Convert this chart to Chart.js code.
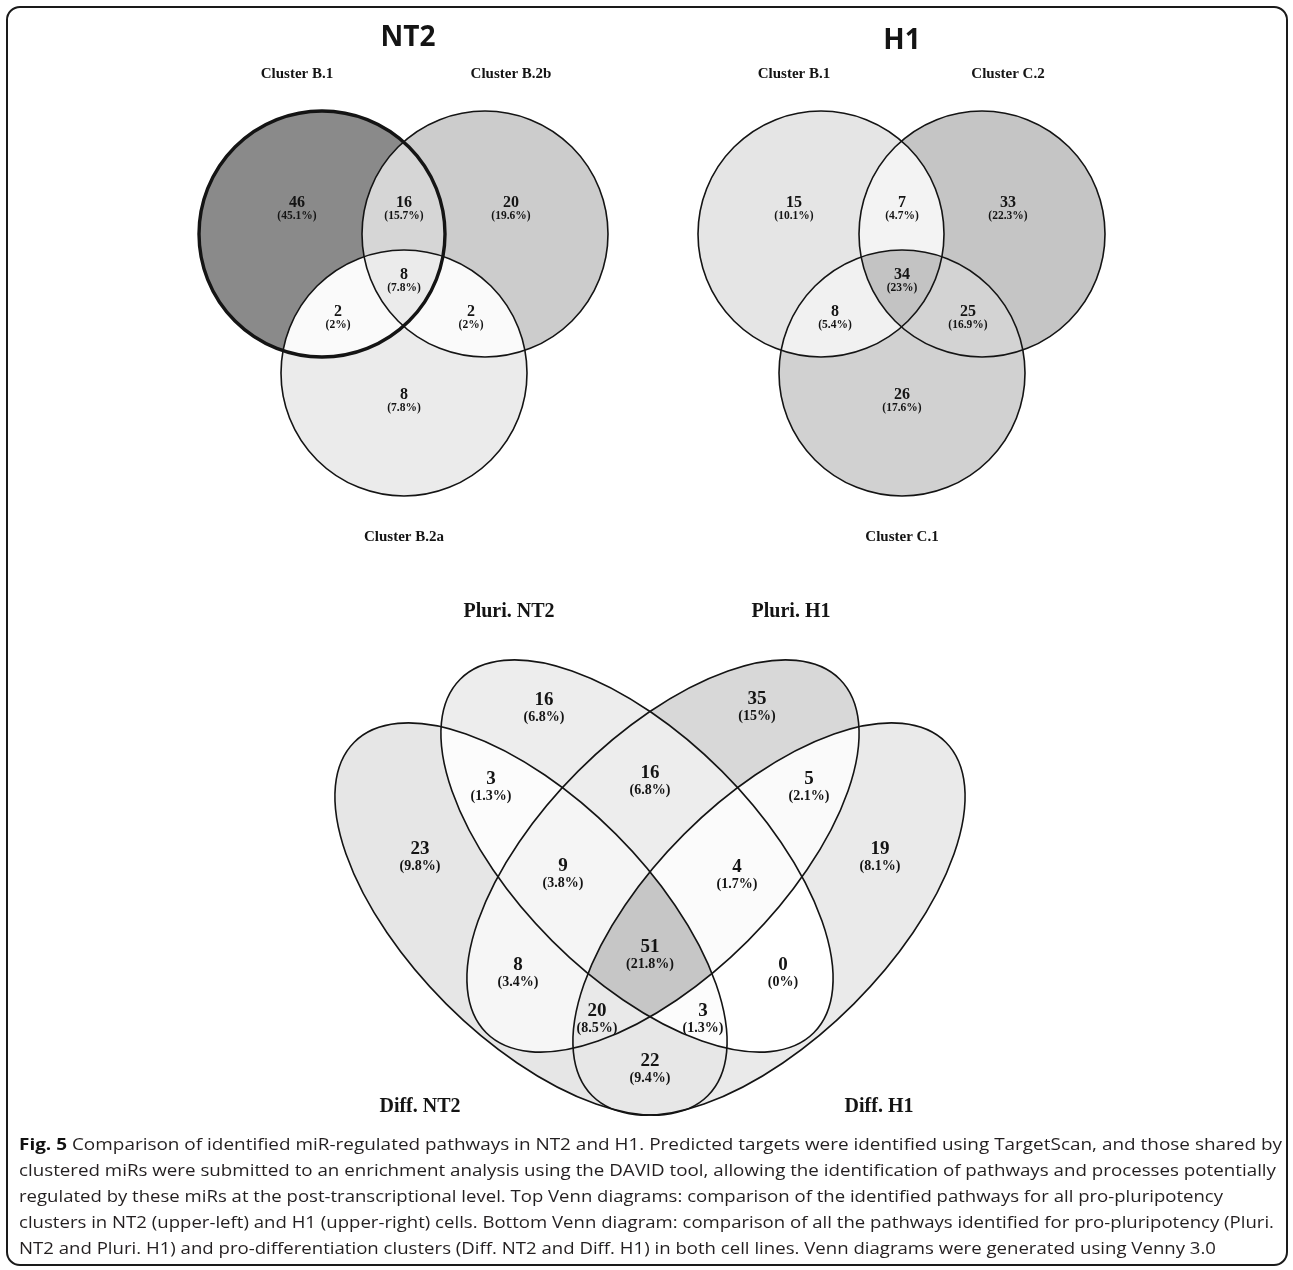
<!DOCTYPE html>
<html>
<head>
<meta charset="utf-8">
<script src="https://cdn.jsdelivr.net/npm/chart.js@4.4.1/dist/chart.umd.min.js"></script>
<style>
  html, body { margin: 0; padding: 0; background: #fff; }
  #wrap { position: relative; width: 1293px; height: 1270px; overflow: hidden; }
  #frame { position: absolute; left: 6px; top: 6px; width: 1278px; height: 1256px; border: 2px solid #1a1a1a; border-radius: 14px; }
  #venn { position: absolute; left: 0; top: 0; }
  #caption { position: absolute; left: 19px; top: 1131px; font-family: "Open Sans", sans-serif; font-size: 16.5px; line-height: 26px; color: #231f20; }
  #caption div { white-space: nowrap; transform-origin: 0 0; width: max-content; }
  #caption b { color: #111; }
</style>
</head>
<body>
<div id="wrap">
  <div id="frame"></div>
  <canvas id="venn" width="1293" height="1270"></canvas>
  <div id="caption">
    <div data-w="1263"><b>Fig. 5</b> Comparison of identified miR-regulated pathways in NT2 and H1. Predicted targets were identified using TargetScan, and those shared by</div>
    <div data-w="1257">clustered miRs were submitted to an enrichment analysis using the DAVID tool, allowing the identification of pathways and processes potentially</div>
    <div data-w="1204">regulated by these miRs at the post-transcriptional level. Top Venn diagrams: comparison of the identified pathways for all pro-pluripotency</div>
    <div data-w="1255">clusters in NT2 (upper-left) and H1 (upper-right) cells. Bottom Venn diagram: comparison of all the pathways identified for pro-pluripotency (Pluri.</div>
    <div data-w="1197">NT2 and Pluri. H1) and pro-differentiation clusters (Diff. NT2 and Diff. H1) in both cell lines. Venn diagrams were generated using Venny 3.0</div>
  </div>
</div>
<script>
// ---- data ----
const nt2Sets = ["Cluster B.1", "Cluster B.2b", "Cluster B.2a"];
const h1Sets = ["Cluster B.1", "Cluster C.2", "Cluster C.1"];
const bottomSets = ["Diff. NT2", "Pluri. NT2", "Pluri. H1", "Diff. H1"];

// region membership, one char per set
const masks3 = ["100", "010", "001", "110", "101", "011", "111"];
const nt2Counts = [46, 20, 8, 16, 2, 2, 8];
const nt2Pct = [45.1, 19.6, 7.8, 15.7, 2, 2, 7.8];
const h1Counts = [15, 33, 26, 7, 8, 25, 34];
const h1Pct = [10.1, 22.3, 17.6, 4.7, 5.4, 16.9, 23];

const masks4 = ["1000", "0100", "0010", "0001", "1100", "0110", "0011", "1110",
  "0111", "1010", "1111", "0101", "1011", "1101", "1001"];
const bottomCounts = [23, 16, 35, 19, 3, 16, 5, 9, 4, 8, 51, 0, 20, 3, 22];
const bottomPct = [9.8, 6.8, 15, 8.1, 1.3, 6.8, 2.1, 3.8, 1.7, 3.4, 21.8, 0, 8.5, 1.3, 9.4];

// ---- layout (figure units, y down) ----
const nt2Shapes = [
  { x: 322, y: 234, a: 123, b: 123, rot: 0, lw: 3.4 },
  { x: 485, y: 234, a: 123, b: 123, rot: 0 },
  { x: 404, y: 373, a: 123, b: 123, rot: 0 },
];
const h1Shapes = [
  { x: 821, y: 234, a: 123, b: 123, rot: 0 },
  { x: 982, y: 234, a: 123, b: 123, rot: 0 },
  { x: 902, y: 373, a: 123, b: 123, rot: 0 },
];
const bottomShapes = [
  { x: 531, y: 919, a: 250, b: 120, rot: 45 },
  { x: 637, y: 856, a: 250, b: 120, rot: 45 },
  { x: 663, y: 856, a: 250, b: 120, rot: -45 },
  { x: 769, y: 919, a: 250, b: 120, rot: -45 },
];
const nt2LabelPos = [[297, 202], [511, 202], [404, 394], [404, 202], [338, 311], [471, 311], [404, 274]];
const h1LabelPos = [[794, 202], [1008, 202], [902, 394], [902, 202], [835, 311], [968, 311], [902, 274]];
const bottomLabelPos = [[420, 848], [544, 699], [757, 698], [880, 848], [491, 778], [650, 772], [809, 778],
  [563, 865], [737, 866], [518, 964], [650, 946], [783, 964], [597, 1010], [703, 1010], [650, 1060]];

const nt2SetPos = [[297, 73], [511, 73], [404, 536]];
const h1SetPos = [[794, 73], [1008, 73], [902, 536]];
const bottomSetPos = [[420, 1105], [509, 610], [791, 610], [879, 1105]];

const diagrams = [
  { title: "NT2", titlePos: [408, 36], sets: nt2Sets, setPos: nt2SetPos, setSize: 15,
    masks: masks3, pct: nt2Pct, shapes: nt2Shapes, numSize: 16, pctSize: 11.5, gap: 13 },
  { title: "H1", titlePos: [902, 39], sets: h1Sets, setPos: h1SetPos, setSize: 15,
    masks: masks3, pct: h1Pct, shapes: h1Shapes, numSize: 16, pctSize: 11.5, gap: 13 },
  { title: "", sets: bottomSets, setPos: bottomSetPos, setSize: 20,
    masks: masks4, pct: bottomPct, shapes: bottomShapes, numSize: 19, pctSize: 14, gap: 17.5 },
];

function grey(p) {
  const g = Math.round(255 - 2.6 * p);
  return "rgb(" + g + "," + g + "," + g + ")";
}

function shapePath(ctx, s, xs, ys) {
  const cx = xs.getPixelForValue(s.x);
  const cy = ys.getPixelForValue(s.y);
  const a = xs.getPixelForValue(s.x + s.a) - cx;
  const b = ys.getPixelForValue(s.y + s.b) - cy;
  const r = s.rot * Math.PI / 180;
  ctx.moveTo(cx + a * Math.cos(r), cy + a * Math.sin(r));
  ctx.ellipse(cx, cy, a, b, r, 0, Math.PI * 2);
}

const vennPlugin = {
  id: "venn",
  beforeDatasetsDraw(chart) {
    const { ctx, scales: { x, y } } = chart;
    const W = chart.width, H = chart.height;
    diagrams.forEach((d) => {
      d.masks.forEach((m, i) => {
        ctx.save();
        for (let k = 0; k < d.shapes.length; k++) {
          ctx.beginPath();
          if (m[k] === "0") ctx.rect(0, 0, W, H);
          shapePath(ctx, d.shapes[k], x, y);
          ctx.clip(m[k] === "0" ? "evenodd" : "nonzero");
        }
        ctx.fillStyle = grey(d.pct[i]);
        ctx.fillRect(0, 0, W, H);
        ctx.restore();
      });
      d.shapes.forEach((s) => {
        ctx.save();
        ctx.beginPath();
        shapePath(ctx, s, x, y);
        ctx.lineWidth = s.lw || 1.6;
        ctx.strokeStyle = "#141414";
        ctx.stroke();
        ctx.restore();
      });
    });
  },
  afterDatasetsDraw(chart) {
    const { ctx, scales: { x, y } } = chart;
    ctx.save();
    ctx.textAlign = "center";
    ctx.textBaseline = "alphabetic";
    ctx.fillStyle = "#141414";
    diagrams.forEach((d, di) => {
      // region counts, placed at the dataset's points
      const meta = chart.getDatasetMeta(di);
      meta.data.forEach((pt, i) => {
        const raw = chart.data.datasets[di].data[i];
        ctx.font = "bold " + d.numSize + "px 'Liberation Serif', serif";
        ctx.fillText(String(raw.count), pt.x, pt.y + d.numSize * 0.33);
        ctx.font = "bold " + d.pctSize + "px 'Liberation Serif', serif";
        ctx.fillText("(" + raw.pct + "%)", pt.x, pt.y + d.gap + d.pctSize * 0.33);
      });
      // set names
      ctx.font = "bold " + d.setSize + "px 'Liberation Serif', serif";
      d.sets.forEach((name, i) => {
        const px = x.getPixelForValue(d.setPos[i][0]);
        const py = y.getPixelForValue(d.setPos[i][1]);
        ctx.fillText(name, px, py + d.setSize * 0.33);
      });
      if (d.title) {
        ctx.font = "bold 28px 'Open Sans', sans-serif";
        ctx.fillText(d.title, x.getPixelForValue(d.titlePos[0]), y.getPixelForValue(d.titlePos[1]) + 10);
      }
    });
    ctx.restore();
  },
};

function regionPoints(pos, counts, pct) {
  return pos.map((p, i) => ({ x: p[0], y: p[1], count: counts[i], pct: pct[i] }));
}

const ctx = document.getElementById("venn").getContext("2d");
const vennChart = new Chart(ctx, {
  type: "scatter",
  data: {
    datasets: [
      { label: "NT2", data: regionPoints(nt2LabelPos, nt2Counts, nt2Pct), pointRadius: 0 },
      { label: "H1", data: regionPoints(h1LabelPos, h1Counts, h1Pct), pointRadius: 0 },
      { label: "All", data: regionPoints(bottomLabelPos, bottomCounts, bottomPct), pointRadius: 0 },
    ],
  },
  options: {
    responsive: false,
    animation: false,
    events: [],
    layout: { padding: 0 },
    scales: {
      x: { type: "linear", min: 0, max: 1293, display: false },
      y: { type: "linear", min: 0, max: 1270, reverse: true, display: false },
    },
    plugins: {
      legend: { display: false },
      tooltip: { enabled: false },
    },
  },
  plugins: [vennPlugin],
});

// squeeze caption lines to the widths of the original narrow font
function fitCaption() {
  document.querySelectorAll("#caption div").forEach((el) => {
    el.style.transform = "none";
    const w = el.getBoundingClientRect().width;
    el.style.transform = "scaleX(" + (+el.dataset.w / w) + ")";
  });
}
fitCaption();
if (document.fonts) document.fonts.ready.then(() => { fitCaption(); vennChart.draw(); });
</script>
</body>
</html>
